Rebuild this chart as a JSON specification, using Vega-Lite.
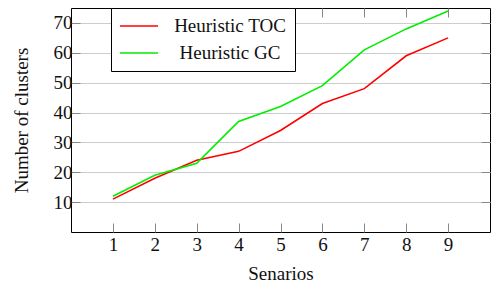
{
  "$schema": "https://vega.github.io/schema/vega-lite/v6.json",
  "autosize": "none",
  "width": 419,
  "height": 224,
  "padding": {"left": 71, "top": 8, "right": 1, "bottom": 54},
  "config": {
    "font": "Liberation Serif",
    "view": {"stroke": "#000", "strokeWidth": 1},
    "axis": {"labelFont": "Liberation Serif", "titleFont": "Liberation Serif", "labelFontSize": 19, "titleFontSize": 19, "labelColor": "#111", "titleColor": "#111", "titleFontWeight": "normal", "domain": false, "ticks": true, "tickColor": "#888", "tickWidth": 1, "gridColor": "#ccc"},
    "legend": {"labelFont": "Liberation Serif", "labelFontSize": 19, "labelColor": "#111"}
  },
  "data": {"values": [
    {"s": 1, "n": 11, "h": "Heuristic TOC"},
    {"s": 2, "n": 18, "h": "Heuristic TOC"},
    {"s": 3, "n": 24, "h": "Heuristic TOC"},
    {"s": 4, "n": 27, "h": "Heuristic TOC"},
    {"s": 5, "n": 34, "h": "Heuristic TOC"},
    {"s": 6, "n": 43, "h": "Heuristic TOC"},
    {"s": 7, "n": 48, "h": "Heuristic TOC"},
    {"s": 8, "n": 59, "h": "Heuristic TOC"},
    {"s": 9, "n": 65, "h": "Heuristic TOC"},
    {"s": 1, "n": 12, "h": "Heuristic GC"},
    {"s": 2, "n": 19, "h": "Heuristic GC"},
    {"s": 3, "n": 23, "h": "Heuristic GC"},
    {"s": 4, "n": 37, "h": "Heuristic GC"},
    {"s": 5, "n": 42, "h": "Heuristic GC"},
    {"s": 6, "n": 49, "h": "Heuristic GC"},
    {"s": 7, "n": 61, "h": "Heuristic GC"},
    {"s": 8, "n": 68, "h": "Heuristic GC"},
    {"s": 9, "n": 74, "h": "Heuristic GC"}
  ]},
  "layer": [
    {
      "mark": {"type": "line", "strokeWidth": 1.6},
      "encoding": {
        "x": {"field": "s", "type": "quantitative", "scale": {"domain": [0, 10], "nice": false}, "axis": {"title": "Senarios", "values": [1,2,3,4,5,6,7,8,9], "tickSize": -9, "labelPadding": 12, "grid": false, "titlePadding": 10}},
        "y": {"field": "n", "type": "quantitative", "scale": {"domain": [0, 75], "nice": false, "zero": false}, "axis": {"title": "Number of clusters", "values": [10,20,30,40,50,60,70], "tickSize": -9, "labelPadding": 8, "grid": true, "titlePadding": 22}},
        "color": {"field": "h", "type": "nominal", "scale": {"domain": ["Heuristic TOC", "Heuristic GC"], "range": ["#ff0000", "#00ee00"]},
          "legend": {"title": null, "orient": "none", "legendX": 40, "legendY": 0, "strokeColor": "#000", "fillColor": "#fff", "padding": 8, "rowPadding": 7, "clipHeight": 20, "symbolType": "stroke", "symbolSize": 1444, "symbolStrokeWidth": 1.6, "labelAlign": "center", "labelOffset": 71, "cornerRadius": 0}}
      }
    },
    {
      "mark": {"type": "line", "opacity": 0},
      "encoding": {
        "x": {"field": "s", "type": "quantitative", "axis": {"orient": "top", "title": null, "labels": false, "values": [1,2,3,4,5,6,7,8,9], "tickSize": -9, "grid": false}},
        "y": {"field": "n", "type": "quantitative", "axis": {"orient": "right", "title": null, "labels": false, "values": [10,20,30,40,50,60,70], "tickSize": -9, "grid": false}}
      }
    }
  ],
  "resolve": {"axis": {"x": "independent", "y": "independent"}}
}
